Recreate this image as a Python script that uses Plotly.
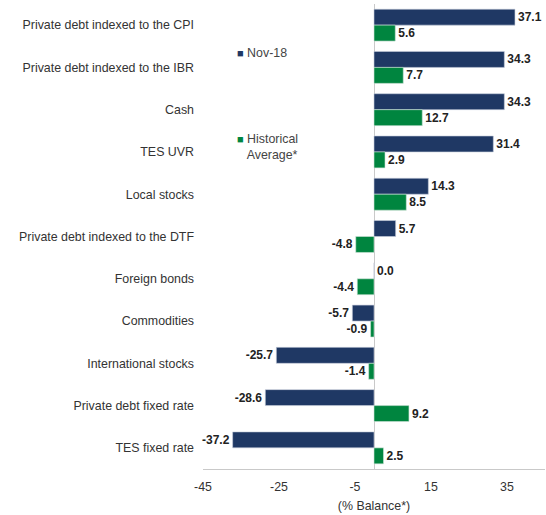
import plotly.graph_objects as go

categories = [
    "Private debt indexed to the CPI",
    "Private debt indexed to the IBR",
    "Cash",
    "TES UVR",
    "Local stocks",
    "Private debt indexed to the DTF",
    "Foreign bonds",
    "Commodities",
    "International stocks",
    "Private debt fixed rate",
    "TES fixed rate",
]
nov18 = [37.1, 34.3, 34.3, 31.4, 14.3, 5.7, 0.0, -5.7, -25.7, -28.6, -37.2]
hist_avg = [5.6, 7.7, 12.7, 2.9, 8.5, -4.8, -4.4, -0.9, -1.4, 9.2, 2.5]
x_ticks = [-45, -25, -5, 15, 35]

NAVY = "#1F3864"
GREEN = "#00853F"
FONT = "Liberation Sans, Arial, sans-serif"

fig = go.Figure()
fig.add_trace(go.Bar(
    y=categories, x=nov18, orientation="h", name="Nov-18",
    marker=dict(color=NAVY, line=dict(color="#c8cfdc", width=0.6)),
    text=[f"{v:.1f}" for v in nov18], textposition="outside",
    textfont=dict(family=FONT, size=12, color="#222222", weight="bold"),
    cliponaxis=False,
))
fig.add_trace(go.Bar(
    y=categories, x=hist_avg, orientation="h", name="Historical Average*",
    marker=dict(color=GREEN, line=dict(color="#cfe3d6", width=0.6)),
    text=[f"{v:.1f}" for v in hist_avg], textposition="outside",
    textfont=dict(family=FONT, size=12, color="#222222", weight="bold"),
    cliponaxis=False,
))

# legend entries placed inside the plot area
fig.add_annotation(
    x=0.095, y=0.895, xref="paper", yref="paper", xanchor="left", yanchor="middle",
    showarrow=False, align="left",
    text=f"<span style='color:{NAVY};font-size:11px'>■</span> Nov-18",
    font=dict(family=FONT, size=12.4, color="#444444"),
)
fig.add_annotation(
    x=0.095, y=0.692, xref="paper", yref="paper", xanchor="left", yanchor="middle",
    showarrow=False, align="left",
    text=f"<span style='color:{GREEN};font-size:11px'>■</span> Historical<br>   Average*",
    font=dict(family=FONT, size=12.4, color="#444444"),
)

fig.update_layout(
    width=546, height=515,
    margin=dict(l=203, r=1, t=4, b=46),
    barmode="group", bargap=0.245, bargroupgap=0,
    plot_bgcolor="white", paper_bgcolor="white",
    showlegend=False,
    font=dict(family=FONT, size=12.4, color="#333333"),
)
fig.update_xaxes(
    range=[-45, 45], tickvals=x_ticks, ticktext=[str(t) for t in x_ticks],
    showgrid=False, zeroline=True, zerolinecolor="#c9c9c9", zerolinewidth=1,
    showline=True, linecolor="#c9c9c9", linewidth=1, ticks="",
    ticklabelstandoff=6,
    tickfont=dict(family=FONT, size=12.4, color="#333333"),
    title=dict(text="(% Balance*)", font=dict(family=FONT, size=12.4, color="#333333"), standoff=8),
)
fig.update_yaxes(
    autorange="reversed", showgrid=False, showline=False, ticks="",
    ticklabelstandoff=8,
    tickfont=dict(family=FONT, size=12.4, color="#333333"),
)

fig.write_html("out.html")
